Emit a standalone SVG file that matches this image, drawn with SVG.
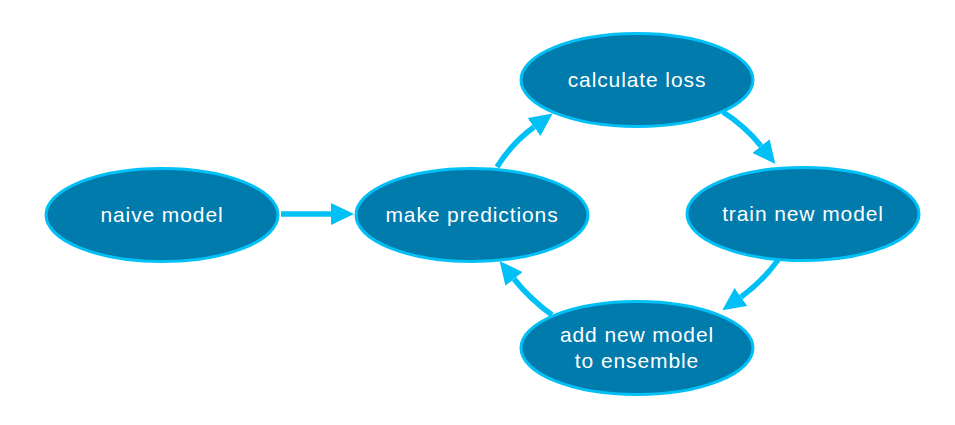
<svg xmlns="http://www.w3.org/2000/svg" width="955" height="425" viewBox="0 0 955 425">
<style>
.node ellipse{fill:#007bac;stroke:#00c0f6;stroke-width:3}
.node text{font-family:"Liberation Sans",Arial,sans-serif;font-size:21px;letter-spacing:0.9px;fill:#ffffff;text-anchor:middle}
.edge{fill:none;stroke:#00c0f6;stroke-width:5.5;marker-end:url(#ah)}
</style>
<defs>
<marker id="ah" markerUnits="userSpaceOnUse" markerWidth="24" markerHeight="22" refX="0" refY="11" orient="auto" viewBox="0 0 24 22">
<path d="M0,0 L23,11 L0,22 z" fill="#00c0f6"/>
</marker>
</defs>
<rect width="955" height="425" fill="#ffffff"/>
<g id="naive-model" class="node"><ellipse cx="162" cy="215" rx="116" ry="46.5"/><text x="162" y="222">naive model</text></g>
<g id="make-predictions" class="node"><ellipse cx="472" cy="215" rx="116" ry="46.5"/><text x="472" y="222">make predictions</text></g>
<g id="calculate-loss" class="node"><ellipse cx="637" cy="80" rx="116" ry="46.5"/><text x="637" y="87">calculate loss</text></g>
<g id="train-new-model" class="node"><ellipse cx="803" cy="214" rx="116" ry="46.5"/><text x="803" y="221">train new model</text></g>
<g id="add-new-model" class="node"><ellipse cx="637" cy="348" rx="116" ry="46.5"/><text x="637" y="342">add new model</text><text x="637" y="368">to ensemble</text></g>
<g id="connectors">
<path class="edge" d="M281,214 L331,214"/>
<path class="edge" d="M497,167 Q512,143 534,127"/>
<path class="edge" d="M723,112 Q745,126 761,146"/>
<path class="edge" d="M778,260 Q762,282 741,297"/>
<path class="edge" d="M552,315 Q530,299 514,279"/>
</g>
</svg>
